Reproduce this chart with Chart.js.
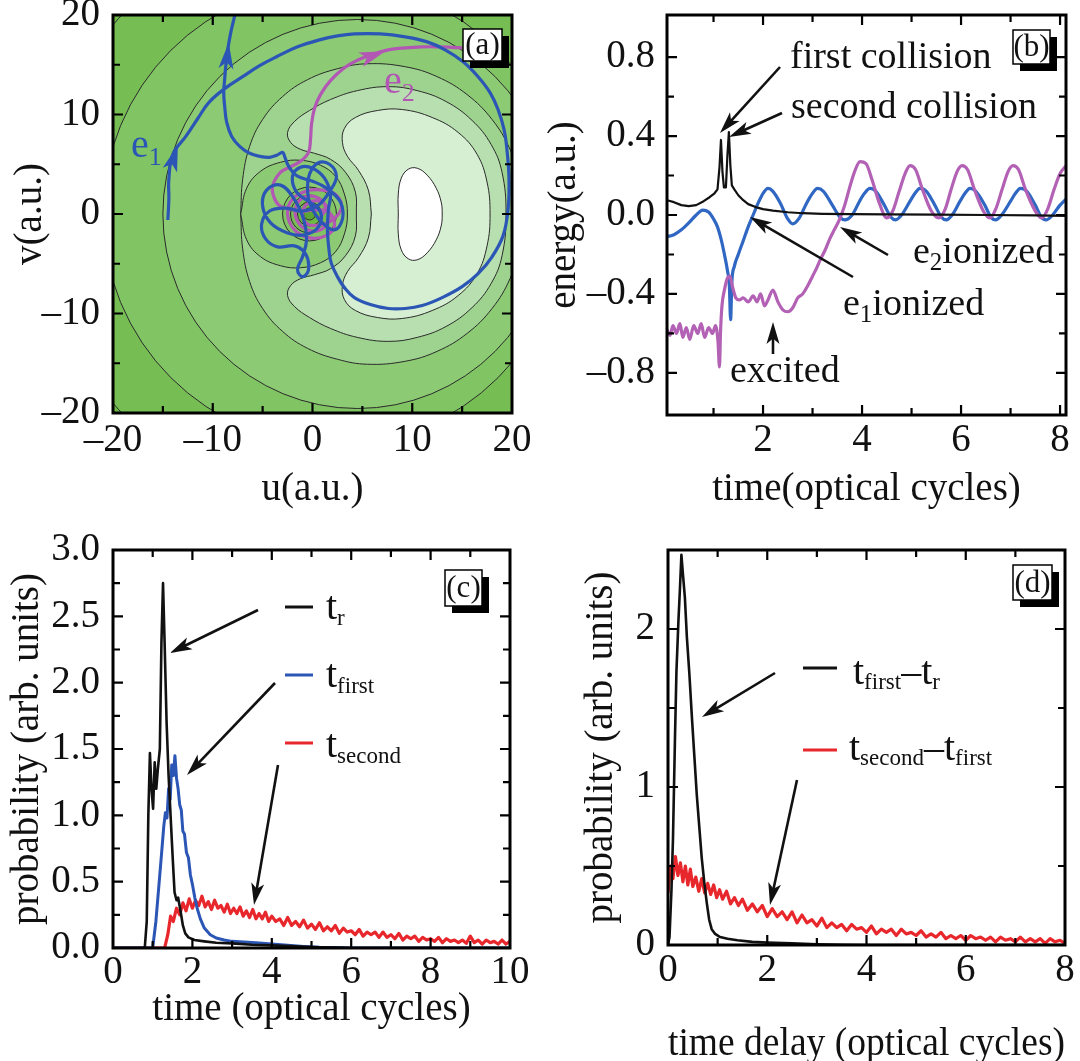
<!DOCTYPE html>
<html>
<head>
<meta charset="utf-8">
<script src="https://cdn.jsdelivr.net/npm/chart.js@4.4.1/dist/chart.umd.min.js"></script>
<style>
  html, body { margin: 0; padding: 0; background: #fff; }
  #wrap { position: relative; width: 1080px; height: 1061px; overflow: hidden; }
  canvas { position: absolute; }
</style>
</head>
<body>
<div id="wrap">
  <canvas id="pa" width="540" height="530" style="left:0;top:0"></canvas>
  <canvas id="pb" width="540" height="530" style="left:540px;top:0"></canvas>
  <canvas id="pc" width="540" height="531" style="left:0;top:530px"></canvas>
  <canvas id="pd" width="540" height="531" style="left:540px;top:530px"></canvas>
</div>
<script>
// ---------- panel (a): electron paths over the potential map ----------
const e1Path = [
  [-14.5,-0.6],[-14.4,1.5],[-14.4,3.5],[-14.0,6.0],[-12.7,7.8],[-11.5,9.6],[-10.4,11.2],[-8.8,12.6],
  [-7.0,13.8],[-5.3,14.9],[-3.6,15.8],[-1.5,16.8],[0.7,17.5],[2.5,17.9],[4.2,18.1],[6.8,18.1],
  [9.3,17.8],[11.5,17.3],[13.3,16.5],[15.1,15.3],[16.6,13.8],[17.8,12.2],[18.6,10.5],[19.2,8.5],
  [19.5,6.4],[19.7,3.5],[19.6,0.4],[19.1,-2.2],[18.0,-4.3],[16.6,-6.0],[15.0,-7.3],[13.0,-8.4],
  [11.0,-9.2],[9.3,-9.5],[7.6,-9.5],[5.8,-9.1],[4.2,-8.4],[3.2,-7.4],[2.5,-6.3],[1.9,-5.0],
  [1.7,-4.0],[1.5,-1.6],[1.6,0.5],[1.8,2.0],[1.2,3.6],[0,4.6],[-1.2,4.7],[-2.0,3.8],[-1.6,2.2],
  [-0.3,1.2],[0.8,0.2],[0.6,-1.3],[-0.8,-2.1],[-2.5,-1.9],[-4.2,-0.9],[-5.0,0.8],[-4.6,2.4],
  [-3.2,2.9],[-1.9,1.6],[-0.9,-0.5],[-0.6,-2.6],[-1.0,-4.3],[-1.5,-5.6],[-1.0,-6.3],[-0.4,-5.6],
  [-0.7,-4.0],[-1.8,-3.2],[-3.5,-3.3],[-4.7,-2.5],[-5.1,-1.0],[-4.3,0.3],[-2.7,0.6],[-1.0,0.3],
  [0.6,0.9],[1.8,2.4],[2.4,3.8],[1.7,5.0],[0.5,5.1],[-0.3,4.0],[-0.5,2.5],[-0.2,0.9],[0.9,-0.8],
  [2.2,-1.6],[3.0,-0.5],[2.8,1.2],[1.4,2.6],[0,3.3],[-1.5,3.8],[-2.4,4.8],[-2.8,5.8],[-3.0,6.2],
  [-3.6,5.9],[-4.3,5.7],[-5.3,5.8],[-6.3,6.1],[-7.3,6.8],[-8.1,7.8],[-8.6,9.2],[-8.8,10.8],
  [-8.9,12.2],[-8.8,13.6],[-8.7,14.8],[-8.5,16.5],[-8.2,18.2],[-7.9,19.5],[-7.6,20.8]
];
const e2Path = [
  [0.6,-0.6],[1.3,0.6],[0.6,1.6],[-0.8,1.7],[-1.7,0.6],[-1.4,-0.9],[-0.2,-1.7],[1.1,-1.4],
  [1.7,-0.2],[1.1,1.1],[-0.2,1.2],[-1.0,0.2],[-0.5,-1.0],[0.7,-1.1],[2.0,-0.6],[2.9,0.6],
  [2.4,1.9],[1.0,2.4],[-0.6,2.3],[-2.0,1.5],[-2.5,0.0],[-1.8,-1.6],[-0.3,-2.4],[1.3,-2.2],
  [2.2,-1.2],[1.6,0.2],[0.2,0.4],[-1.2,0.3],[-2.6,0.6],[-3.4,0.9],[-3.9,1.8],[-4.0,2.8],
  [-3.3,4.1],[-2.3,4.7],[-1.2,5.3],[-0.4,6.2],[-0.2,7.5],[-0.1,9.0],[0.2,10.6],[0.8,12.0],
  [1.8,13.4],[3.2,14.7],[4.6,15.5],[5.9,16.0],[7.6,16.5],[9.3,16.7],[11.0,16.8],[12.6,16.8],
  [14.0,16.75],[15.0,16.7]
];
// contour lines, upper half (v >= 0); the map is mirror symmetric in v
const separatrixOuter = [[-7.2,0],[-7.0,3.5],[-6.3,6.8],[-5.0,9.5],[-3.0,11.8],[-0.5,13.5],[2.5,14.6],
  [5.5,15.1],[9.3,14.8],[12.5,13.8],[15.5,12.0],[18.0,9.5],[19.8,6.5],[20.8,3.3],[21.1,0]];
const separatrixLobe = [[-7.2,0],[-6.6,2.6],[-5.2,4.3],[-3.2,5.2],[-1.2,5.4],[0.8,4.9],[2.3,3.8],[3.2,2.0],[3.5,0]];
const ridgeBand = [[4.4,0],[4.3,2.2],[3.3,4.2],[1.8,5.5],[0.2,6.1],[-1.2,6.5],[-2.2,7.2],[-2.5,8.2],
  [-1.8,9.3],[-0.3,10.4],[1.8,11.5],[4.5,12.4],[7.6,12.8],[10.5,12.4],[13.4,11.3],[16.0,9.4],
  [17.9,7.0],[19.0,4.2],[19.4,0]];
const ridgeTop = [[5.9,0],[5.6,2.4],[4.6,4.4],[3.5,5.8],[3.0,7.2],[3.2,8.6],[4.3,9.7],[6.5,10.4],
  [9.0,10.5],[12.0,9.7],[14.6,8.2],[16.5,6.0],[17.5,3.2],[17.8,0]];
const peakCap = [[8.6,0],[8.6,2.0],[8.9,3.6],[9.6,4.5],[10.5,4.6],[11.5,3.9],[12.4,2.6],[12.9,1.2],[13.0,0]];
const ringU = [2.2, 2.2, 4.5];
const ringR = [29.2, 23.2, 19.5];
const coreR = [2.7, 1.9, 1.2, 0.6];
const uvTicks = [-20, -10, 0, 10, 20];

// ---------- panel (b): energies vs time ----------
const energyTotal = [[0.06,0.075],[0.2,0.065],[0.35,0.05],[0.5,0.045],[0.65,0.05],[0.8,0.07],[0.92,0.09],
  [1.02,0.11],[1.08,0.13],[1.12,0.24],[1.15,0.38],[1.18,0.22],[1.21,0.14],[1.25,0.14],[1.28,0.3],
  [1.31,0.42],[1.34,0.25],[1.37,0.15],[1.42,0.13],[1.5,0.1],[1.6,0.075],[1.7,0.055],[1.85,0.04],
  [2.0,0.03],[2.2,0.022],[2.5,0.014],[2.8,0.009],[3.2,0.006],[3.8,0.004],[4.5,0.003],[5.5,0.002],
  [6.5,0.0],[7.5,-0.002],[8.12,-0.004]];
const energyE1 = [[0.06,-0.11],[0.2,-0.1],[0.35,-0.075],[0.5,-0.04],[0.65,0.0],[0.78,0.025],[0.9,0.015],
  [1.0,-0.02],[1.08,-0.06],[1.15,-0.12],[1.22,-0.2],[1.28,-0.28],[1.32,-0.36],[1.345,-0.53],[1.37,-0.34],
  [1.42,-0.26],[1.5,-0.2],[1.6,-0.13],[1.7,-0.06],[1.8,0.0],[1.9,0.06],[2.0,0.11],[2.1,0.135],[2.2,0.12],
  [2.35,0.06],[2.5,-0.02],[2.6,-0.045],[2.72,-0.02],[2.88,0.06],[3.0,0.11],[3.1,0.135],[3.22,0.12],
  [3.4,0.05],[3.55,-0.01],[3.65,-0.025],[3.8,0.0],[3.95,0.07],[4.05,0.11],[4.16,0.135],[4.28,0.12],
  [4.45,0.05],[4.58,-0.01],[4.68,-0.025],[4.8,0.0],[4.97,0.07],[5.07,0.11],[5.17,0.135],[5.3,0.12],
  [5.47,0.05],[5.6,-0.01],[5.7,-0.025],[5.82,0.0],[5.98,0.07],[6.08,0.11],[6.18,0.135],[6.3,0.12],
  [6.48,0.05],[6.6,-0.01],[6.7,-0.025],[6.82,0.0],[7.0,0.07],[7.1,0.11],[7.2,0.135],[7.33,0.12],
  [7.5,0.05],[7.62,-0.01],[7.72,-0.025],[7.85,0.0],[8.0,0.05],[8.12,0.08]];
const energyE2 = [[0.06,-0.58],[0.12,-0.61],[0.18,-0.56],[0.25,-0.6],[0.32,-0.55],[0.38,-0.62],[0.45,-0.57],
  [0.52,-0.63],[0.6,-0.56],[0.68,-0.6],[0.75,-0.55],[0.82,-0.62],[0.9,-0.57],[0.98,-0.6],[1.04,-0.56],
  [1.09,-0.64],[1.12,-0.77],[1.14,-0.6],[1.17,-0.46],[1.22,-0.38],[1.28,-0.32],[1.33,-0.31],[1.38,-0.36],
  [1.45,-0.42],[1.52,-0.43],[1.6,-0.42],[1.7,-0.44],[1.8,-0.41],[1.88,-0.44],[1.95,-0.4],[2.03,-0.46],
  [2.1,-0.43],[2.2,-0.38],[2.3,-0.44],[2.4,-0.48],[2.5,-0.49],[2.6,-0.47],[2.7,-0.42],[2.8,-0.4],
  [2.9,-0.36],[3.0,-0.31],[3.08,-0.27],[3.15,-0.23],[3.25,-0.18],[3.35,-0.12],[3.45,-0.07],[3.55,-0.02],
  [3.65,0.05],[3.75,0.14],[3.85,0.22],[3.96,0.27],[4.08,0.26],[4.2,0.18],[4.35,0.06],[4.5,-0.015],
  [4.62,0.02],[4.75,0.12],[4.87,0.21],[4.97,0.25],[5.08,0.23],[5.22,0.13],[5.4,0.02],[5.55,-0.015],
  [5.68,0.03],[5.8,0.13],[5.92,0.22],[6.02,0.25],[6.13,0.23],[6.27,0.13],[6.45,0.02],[6.58,-0.015],
  [6.7,0.03],[6.83,0.13],[6.95,0.22],[7.05,0.25],[7.16,0.23],[7.3,0.13],[7.5,0.02],[7.63,-0.015],
  [7.75,0.03],[7.88,0.13],[8.0,0.21],[8.12,0.25]];
const energyTicks = [-0.8, -0.4, 0, 0.4, 0.8];
const cycleTicksB = [2, 4, 6, 8];

// ---------- panel (c): time distributions ----------
const probReturn = [[0,0],[0.8,0],[0.85,0.2],[0.89,1.0],[0.93,1.47],[0.97,1.2],[1.01,1.05],[1.05,1.4],
  [1.09,1.2],[1.13,1.35],[1.18,1.5],[1.22,2.3],[1.26,2.75],[1.3,2.3],[1.35,1.7],[1.4,1.3],[1.45,1.0],
  [1.5,0.7],[1.55,0.42],[1.6,0.36],[1.64,0.38],[1.7,0.28],[1.76,0.17],[1.82,0.11],[1.9,0.08],[2.05,0.06],
  [2.3,0.05],[2.6,0.04],[3.0,0.035],[3.5,0.025],[4.0,0.02],[4.6,0.012],[5.2,0.006],[6.0,0],[10,0]];
const probFirst = [[0,0],[1.0,0],[1.08,0.2],[1.15,0.45],[1.22,0.7],[1.28,0.92],[1.32,1.02],[1.36,0.98],
  [1.4,1.2],[1.44,1.12],[1.48,1.38],[1.52,1.3],[1.56,1.45],[1.6,1.28],[1.64,1.2],[1.68,1.08],[1.72,1.04],
  [1.76,0.88],[1.8,0.86],[1.85,0.72],[1.9,0.68],[1.95,0.55],[2.0,0.48],[2.06,0.38],[2.12,0.3],[2.2,0.22],
  [2.3,0.15],[2.45,0.1],[2.6,0.075],[2.8,0.06],[3.0,0.05],[3.3,0.045],[3.6,0.04],[4.0,0.03],[4.4,0.02],
  [4.8,0.012],[5.2,0.006],[5.6,0.003],[6.0,0],[10,0]];
const probSecond = [[0,0],[1.3,0],[1.38,0.1],[1.45,0.24],[1.52,0.2],[1.6,0.3],[1.68,0.25],[1.76,0.34],
  [1.84,0.28],[1.92,0.37],[2.0,0.3],[2.08,0.36],[2.16,0.32],[2.24,0.39],[2.32,0.31],[2.4,0.35],[2.48,0.29],
  [2.56,0.36],[2.64,0.3],[2.72,0.32],[2.8,0.27],[2.88,0.33],[2.96,0.26],[3.04,0.3],[3.12,0.26],[3.2,0.31],
  [3.28,0.24],[3.36,0.28],[3.44,0.23],[3.52,0.29],[3.6,0.22],[3.68,0.26],[3.76,0.22],[3.84,0.27],[3.92,0.2],
  [4.0,0.24],[4.1,0.2],[4.2,0.22],[4.3,0.17],[4.4,0.23],[4.5,0.17],[4.6,0.2],[4.7,0.16],[4.8,0.21],
  [4.9,0.15],[5.0,0.18],[5.1,0.14],[5.2,0.19],[5.3,0.13],[5.4,0.16],[5.5,0.13],[5.6,0.17],[5.7,0.11],
  [5.8,0.15],[5.9,0.12],[6.0,0.13],[6.1,0.1],[6.2,0.14],[6.3,0.09],[6.4,0.12],[6.5,0.1],[6.6,0.12],
  [6.7,0.08],[6.8,0.12],[6.9,0.08],[7.0,0.1],[7.1,0.07],[7.2,0.11],[7.3,0.06],[7.4,0.09],[7.5,0.07],
  [7.6,0.09],[7.7,0.05],[7.8,0.08],[7.9,0.06],[8.0,0.07],[8.1,0.05],[8.2,0.08],[8.3,0.04],[8.4,0.07],
  [8.5,0.05],[8.6,0.06],[8.7,0.04],[8.8,0.06],[8.9,0.035],[9.0,0.09],[9.1,0.04],[9.2,0.06],[9.3,0.03],
  [9.4,0.06],[9.5,0.04],[9.6,0.05],[9.7,0.03],[9.8,0.06],[9.9,0.03],[10.0,0.05]];
const timeTicksC = [0, 2, 4, 6, 8, 10];
const probTicksC = [0, 0.5, 1, 1.5, 2, 2.5, 3];

// ---------- panel (d): delay distributions ----------
const delayFirst = [[0,0],[0.03,0.05],[0.07,0.35],[0.1,0.67],[0.14,1.3],[0.17,1.73],[0.21,2.05],[0.24,2.25],
  [0.27,2.47],[0.3,2.35],[0.34,2.2],[0.38,1.95],[0.43,1.72],[0.48,1.45],[0.53,1.2],[0.58,0.95],[0.63,0.75],
  [0.68,0.55],[0.73,0.4],[0.78,0.27],[0.83,0.16],[0.88,0.1],[0.95,0.07],[1.05,0.05],[1.2,0.04],[1.4,0.03],
  [1.7,0.02],[2.0,0.015],[2.5,0.01],[3.0,0.005],[3.5,0.002],[4.0,0],[8.1,0]];
const delaySecond = [[0.0,0.33],[0.05,0.5],[0.1,0.42],[0.15,0.56],[0.2,0.44],[0.25,0.52],[0.3,0.4],[0.35,0.5],
  [0.4,0.38],[0.45,0.48],[0.5,0.37],[0.56,0.43],[0.62,0.34],[0.68,0.42],[0.74,0.33],[0.8,0.39],[0.86,0.32],
  [0.92,0.38],[0.98,0.3],[1.04,0.35],[1.1,0.29],[1.18,0.34],[1.26,0.26],[1.34,0.3],[1.42,0.25],[1.5,0.29],
  [1.6,0.22],[1.7,0.26],[1.8,0.21],[1.9,0.25],[2.0,0.18],[2.1,0.23],[2.2,0.18],[2.3,0.21],[2.4,0.16],[2.5,0.21],
  [2.6,0.14],[2.7,0.19],[2.8,0.14],[2.9,0.16],[3.0,0.12],[3.1,0.17],[3.2,0.11],[3.3,0.14],[3.4,0.11],[3.5,0.13],
  [3.6,0.09],[3.7,0.13],[3.8,0.1],[3.9,0.11],[4.0,0.08],[4.1,0.12],[4.2,0.07],[4.3,0.1],[4.4,0.08],[4.5,0.1],
  [4.6,0.06],[4.7,0.1],[4.8,0.07],[4.9,0.08],[5.0,0.06],[5.1,0.09],[5.2,0.05],[5.3,0.07],[5.4,0.05],[5.5,0.08],
  [5.6,0.04],[5.7,0.06],[5.8,0.04],[5.9,0.06],[6.0,0.03],[6.1,0.06],[6.2,0.04],[6.3,0.05],[6.4,0.03],[6.5,0.05],
  [6.6,0.02],[6.7,0.05],[6.8,0.03],[6.9,0.04],[7.0,0.02],[7.1,0.05],[7.2,0.02],[7.3,0.04],[7.4,0.02],[7.5,0.04],
  [7.6,0.01],[7.7,0.04],[7.8,0.02],[7.9,0.03],[8.0,0.01],[8.1,0.02]];
const delayTicks = [0, 2, 4, 6, 8];
const probTicksD = [0, 1, 2];

// ---------- styling ----------
const FONT = '"Liberation Serif", "Times New Roman", Times, serif';
const INK = '#111';
const LINE = '#2a2a2a';
const GREENS = ['#6cb946', '#76be54', '#80c463', '#8ccb74', '#9dd38e', '#b8dfaf', '#d6eed2'];
const BLUE = '#2b56b5', MAGENTA = '#b257b4', RED = '#e8272c';
const TICK_SIZE = 39, TITLE_SIZE = 39;

const pts = arr => arr.map(([x, y]) => ({ x, y }));
const mirror = half => half.concat(half.slice(0, -1).reverse().map(([u, v]) => [u, -v]));
const fmtInt = v => (v < 0 ? '\u2013' : '') + Math.abs(v);
const fmtDec = v => (v < 0 ? '\u2013' : '') + Math.abs(v).toFixed(1);

function axisX(min, max, ticks, fmt, boxH, pad, title, titlePad, titleLH) {
  return {
    type: 'linear', position: 'bottom', min: min, max: max,
    afterBuildTicks: s => { s.ticks = ticks.map(v => ({ value: v })); },
    afterFit: s => { s.height = boxH; s.paddingLeft = 0; s.paddingRight = 0; },
    grid: { display: false, drawTicks: false },
    border: { display: false },
    ticks: { autoSkip: false, maxRotation: 0, minRotation: 0, padding: pad, color: INK,
      font: { family: FONT, size: TICK_SIZE, lineHeight: 1 }, callback: v => fmt(v) },
    title: { display: true, text: title, color: INK,
      font: { family: FONT, size: TITLE_SIZE, lineHeight: titleLH || 1 }, padding: { top: 0, bottom: titlePad } }
  };
}
function axisY(min, max, ticks, fmt, boxW, pad, title, titlePad) {
  return {
    type: 'linear', position: 'left', min: min, max: max,
    afterBuildTicks: s => { s.ticks = ticks.map(v => ({ value: v })); },
    afterFit: s => { s.width = boxW; s.paddingTop = 0; s.paddingBottom = 0; },
    grid: { display: false, drawTicks: false },
    border: { display: false },
    ticks: { autoSkip: false, padding: pad, color: INK,
      font: { family: FONT, size: TICK_SIZE, lineHeight: 1 }, callback: v => fmt(v) },
    title: { display: true, text: title, color: INK,
      font: { family: FONT, size: TITLE_SIZE, lineHeight: 1 }, padding: { top: titlePad, bottom: 0 } }
  };
}
function baseOptions(padding, x, y) {
  return {
    responsive: false, animation: false, devicePixelRatio: 1, events: [],
    layout: { padding: padding },
    elements: { point: { radius: 0 }, line: { borderJoinStyle: 'round' } },
    plugins: { legend: { display: false }, tooltip: { enabled: false } },
    scales: { x: x, y: y }
  };
}

// drawing helpers for the frame, inward ticks and annotations
function head(ctx, tx, ty, ux, uy, len, half, color) {
  const bx = tx - ux * len, by = ty - uy * len;
  ctx.fillStyle = color;
  ctx.beginPath();
  ctx.moveTo(tx, ty);
  ctx.lineTo(bx - uy * half, by + ux * half);
  ctx.lineTo(tx - ux * len * 0.75, ty - uy * len * 0.75);
  ctx.lineTo(bx + uy * half, by - ux * half);
  ctx.closePath();
  ctx.fill();
}
function arrow(ctx, x1, y1, x2, y2) {
  const dx = x2 - x1, dy = y2 - y1, L = Math.hypot(dx, dy), ux = dx / L, uy = dy / L;
  ctx.strokeStyle = INK; ctx.lineWidth = 2.6;
  ctx.beginPath(); ctx.moveTo(x1, y1); ctx.lineTo(x2 - ux * 12, y2 - uy * 12); ctx.stroke();
  head(ctx, x2, y2, ux, uy, 22, 6.5, INK);
}
function rich(ctx, x, y, parts, color, size, subSize, drop) {
  ctx.fillStyle = color; ctx.textAlign = 'left'; ctx.textBaseline = 'alphabetic';
  let cx = x;
  parts.forEach(([txt, sub]) => {
    ctx.font = (sub ? subSize : size) + 'px ' + FONT;
    ctx.fillText(txt, cx, sub ? y + drop : y);
    cx += ctx.measureText(txt).width;
  });
}
function tagBox(ctx, x1, y1, x2, y2, label) {
  ctx.fillStyle = '#000'; ctx.fillRect(x1 + 7, y1 + 7, x2 - x1, y2 - y1);
  ctx.fillStyle = '#fff'; ctx.fillRect(x1, y1, x2 - x1, y2 - y1);
  ctx.strokeStyle = '#000'; ctx.lineWidth = 1.5; ctx.strokeRect(x1, y1, x2 - x1, y2 - y1);
  ctx.fillStyle = INK; ctx.font = '31px ' + FONT; ctx.textAlign = 'center'; ctx.textBaseline = 'middle';
  ctx.fillText(label, (x1 + x2) / 2, (y1 + y2) / 2 + 1);
}
function frame(cfg) {
  return {
    id: 'frame',
    beforeDatasetsDraw(chart) {
      if (!cfg.bg) return;
      const { ctx, chartArea: a } = chart;
      ctx.save(); ctx.fillStyle = cfg.bg;
      ctx.fillRect(a.left, a.top, a.right - a.left, a.bottom - a.top);
      ctx.restore();
    },
    afterDatasetsDraw(chart) {
      const { ctx, chartArea: a, scales: { x, y } } = chart;
      ctx.save();
      ctx.strokeStyle = '#000'; ctx.lineWidth = 2.2;
      ctx.beginPath();
      const tx = (vals, len) => vals.forEach(v => {
        const p = x.getPixelForValue(v);
        ctx.moveTo(p, a.bottom); ctx.lineTo(p, a.bottom - len);
        ctx.moveTo(p, a.top); ctx.lineTo(p, a.top + len);
      });
      const ty = (vals, len) => vals.forEach(v => {
        const p = y.getPixelForValue(v);
        ctx.moveTo(a.left, p); ctx.lineTo(a.left + len, p);
        ctx.moveTo(a.right, p); ctx.lineTo(a.right - len, p);
      });
      tx(cfg.xMajor, 10); tx(cfg.xMinor, 7); ty(cfg.yMajor, 10); ty(cfg.yMinor, 7);
      ctx.stroke();
      ctx.lineWidth = 3;
      ctx.strokeRect(a.left, a.top, a.right - a.left, a.bottom - a.top);
      ctx.restore();
      if (cfg.extra) {
        ctx.save(); ctx.translate(-cfg.ox, -cfg.oy);
        cfg.extra(chart, ctx);
        ctx.restore();
      }
    }
  };
}

// ---------- chart (a) ----------
const radiusPx = c => {
  if (!c.raw) return 0;
  const x = c.chart.scales.x;
  return Math.abs(x.getPixelForValue(c.raw.r) - x.getPixelForValue(0));
};
const shapeSet = (half, color) => ({
  type: 'line', data: pts(mirror(half)), fill: 'shape', backgroundColor: color,
  borderColor: LINE, borderWidth: 1, pointRadius: 0, tension: 0.4, clip: 0
});
const ringSet = (centers, radii, colors) => ({
  type: 'line', data: centers.map((u, i) => ({ x: u, y: 0, r: radii[i] })), showLine: false,
  pointRadius: radiusPx, pointBackgroundColor: colors, pointBorderColor: LINE, pointBorderWidth: 1, clip: 0
});
const aLayers = [
  ringSet(ringU, ringR, [GREENS[1], GREENS[2], GREENS[3]]),
  shapeSet(separatrixOuter, GREENS[4]),
  shapeSet(ridgeBand, GREENS[5]),
  shapeSet(ridgeTop, GREENS[6]),
  shapeSet(peakCap, '#ffffff'),
  shapeSet(separatrixLobe, GREENS[3]),
  ringSet(coreR.map(() => -0.3), coreR, [GREENS[2], GREENS[1], GREENS[0], '#5ba637']),
  { type: 'line', data: pts(e2Path), borderColor: MAGENTA, borderWidth: 3.2, tension: 0.4, pointRadius: 0, clip: 0 },
  { type: 'line', data: pts(e1Path), borderColor: BLUE, borderWidth: 3.2, tension: 0.4, pointRadius: 0, clip: 0 }
];
aLayers.forEach((d, i) => { d.order = aLayers.length - i; });

const e1Marks = [[[-13.5, 6.9], [-14.3, 4.4]], [[-8.4, 17.2], [-8.7, 14.4]]];
const e2Marks = [[[7.3, 16.35], [4.8, 15.5]]];

new Chart(document.getElementById('pa'), {
  type: 'line',
  data: { datasets: aLayers },
  options: baseOptions({ left: 0, right: 28, top: 15, bottom: 0 },
    axisX(-20, 20, uvTicks, fmtInt, 117, 8, 'u(a.u.)', 21),
    axisY(-20, 20, uvTicks, fmtInt, 113, 13, 'v(a.u.)', 11)),
  plugins: [frame({
    bg: GREENS[0], ox: 0, oy: 0,
    xMajor: [-10, 0, 10], xMinor: [-15, -5, 5, 15], yMajor: [-10, 0, 10], yMinor: [-15, -5, 5, 15],
    extra: (chart, ctx) => {
      const { x, y } = chart.scales;
      const mark = (list, color) => list.forEach(([tip, base]) => {
        const tx = x.getPixelForValue(tip[0]), tyy = y.getPixelForValue(tip[1]);
        const bx = x.getPixelForValue(base[0]), by = y.getPixelForValue(base[1]);
        const L = Math.hypot(tx - bx, tyy - by);
        head(ctx, tx, tyy, (tx - bx) / L, (tyy - by) / L, 26, 7.5, color);
      });
      mark(e1Marks, BLUE);
      mark(e2Marks, MAGENTA);
      rich(ctx, 131, 157, [['e', 0], ['1', 1]], BLUE, 40, 26, 8);
      rich(ctx, 384, 93, [['e', 0], ['2', 1]], MAGENTA, 40, 26, 8);
      tagBox(ctx, 463, 29, 502, 61, '(a)');
    }
  })]
});

// ---------- chart (b) ----------
new Chart(document.getElementById('pb'), {
  type: 'line',
  data: { datasets: [
    { data: pts(energyTotal), borderColor: INK, borderWidth: 2.2, tension: 0 },
    { data: pts(energyE2), borderColor: '#b261b5', borderWidth: 3.2, cubicInterpolationMode: 'monotone' },
    { data: pts(energyE1), borderColor: '#2f67c3', borderWidth: 3.2, cubicInterpolationMode: 'monotone' }
  ] },
  options: baseOptions({ left: 0, right: 14, top: 15, bottom: 0 },
    axisX(0.06, 8.12, cycleTicksB, fmtInt, 115, 6, 'time(optical cycles)', 21),
    axisY(-1.013, 1.013, energyTicks, fmtDec, 127, 12, 'energy(a.u.)', 5)),
  plugins: [frame({
    ox: 540, oy: 0,
    xMajor: [2, 4, 6, 8], xMinor: [1, 3, 5, 7],
    yMajor: [-0.8, -0.4, 0, 0.4, 0.8], yMinor: [-0.6, -0.2, 0.2, 0.6],
    extra: (chart, ctx) => {
      ctx.fillStyle = INK; ctx.font = '38px ' + FONT; ctx.textAlign = 'left'; ctx.textBaseline = 'alphabetic';
      ctx.fillText('first collision', 790, 68);
      ctx.fillText('second collision', 791, 118);
      ctx.fillText('excited', 730, 382);
      rich(ctx, 913, 263, [['e', 0], ['2', 1], ['ionized', 0]], INK, 38, 25, 7);
      rich(ctx, 843, 315, [['e', 0], ['1', 1], ['ionized', 0]], INK, 38, 25, 7);
      arrow(ctx, 780, 67, 720, 133);
      arrow(ctx, 782, 113, 729, 137);
      arrow(ctx, 853, 277, 750, 217);
      arrow(ctx, 888, 255, 840, 227);
      arrow(ctx, 773, 354, 773, 322);
      tagBox(ctx, 1013, 30, 1050, 64, '(b)');
    }
  })]
});

// ---------- chart (c) ----------
new Chart(document.getElementById('pc'), {
  type: 'line',
  data: { datasets: [
    { data: pts(probReturn), borderColor: INK, borderWidth: 2.6, tension: 0 },
    { data: pts(probFirst), borderColor: BLUE, borderWidth: 3, tension: 0 },
    { data: pts(probSecond), borderColor: RED, borderWidth: 3.2, tension: 0 }
  ] },
  options: baseOptions({ left: 0, right: 30, top: 20, bottom: 0 },
    axisX(0, 10, timeTicksC, fmtInt, 113, 5, 'time (optical cycles)', 32),
    axisY(0, 3, probTicksC, fmtDec, 113, 13, 'probability (arb. units)', 8)),
  plugins: [frame({
    ox: 0, oy: 530,
    xMajor: [2, 4, 6, 8], xMinor: [1, 3, 5, 7, 9],
    yMajor: [0.5, 1, 1.5, 2, 2.5], yMinor: [0.25, 0.75, 1.25, 1.75, 2.25, 2.75],
    extra: (chart, ctx) => {
      const seg = (yy, color) => {
        ctx.strokeStyle = color; ctx.lineWidth = 3;
        ctx.beginPath(); ctx.moveTo(285, yy); ctx.lineTo(313, yy); ctx.stroke();
      };
      seg(607, INK); seg(675, BLUE); seg(743, RED);
      rich(ctx, 326, 619, [['t', 0], ['r', 1]], INK, 40, 23, 6);
      rich(ctx, 326, 687, [['t', 0], ['first', 1]], INK, 40, 23, 6);
      rich(ctx, 326, 757, [['t', 0], ['second', 1]], INK, 40, 23, 6);
      arrow(ctx, 258, 610, 170, 653);
      arrow(ctx, 275, 683, 187, 775);
      arrow(ctx, 278, 765, 254, 905);
      tagBox(ctx, 445, 570, 482, 606, '(c)');
    }
  })]
});

// ---------- chart (d) ----------
new Chart(document.getElementById('pd'), {
  type: 'line',
  data: { datasets: [
    { data: pts(delayFirst), borderColor: INK, borderWidth: 2.6, tension: 0 },
    { data: pts(delaySecond), borderColor: RED, borderWidth: 3.2, tension: 0 }
  ] },
  options: baseOptions({ left: 0, right: 15, top: 20, bottom: 0 },
    axisX(0, 8, delayTicks, fmtInt, 116, 6, 'time delay (optical cycles)', 1, 0.8),
    axisY(0, 2.5, probTicksD, fmtInt, 128, 13, 'probability (arb. units)', 42)),
  plugins: [frame({
    ox: 540, oy: 530,
    xMajor: [2, 4, 6], xMinor: [1, 3, 5, 7],
    yMajor: [1, 2], yMinor: [0.5, 1.5],
    extra: (chart, ctx) => {
      const seg = (yy, color) => {
        ctx.strokeStyle = color; ctx.lineWidth = 3;
        ctx.beginPath(); ctx.moveTo(803, yy); ctx.lineTo(837, yy); ctx.stroke();
      };
      seg(668, INK); seg(750, RED);
      rich(ctx, 853, 684, [['t', 0], ['first', 1], ['\u2013t', 0], ['r', 1]], INK, 40, 23, 5);
      rich(ctx, 849, 760, [['t', 0], ['second', 1], ['\u2013t', 0], ['first', 1]], INK, 40, 23, 5);
      arrow(ctx, 775, 673, 702, 717);
      arrow(ctx, 797, 780, 770, 905);
      tagBox(ctx, 1013, 565, 1052, 600, '(d)');
    }
  })]
});
</script>
</body>
</html>
